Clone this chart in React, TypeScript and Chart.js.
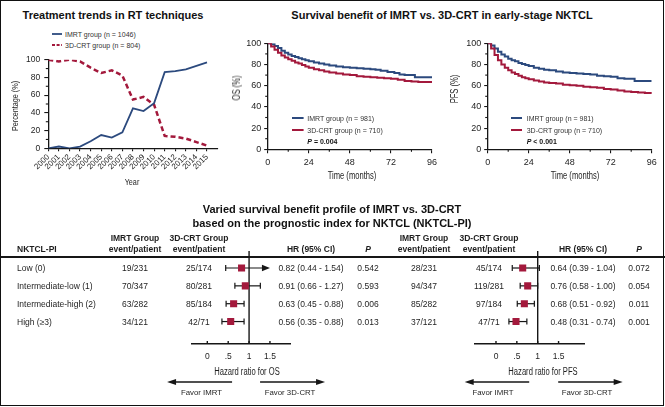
import React, { useEffect, useRef } from 'react';
import { Chart, registerables } from 'chart.js';

Chart.register(...registerables);

// ---------------- data ----------------
const YEARS = [2000, 2001, 2002, 2003, 2004, 2005, 2006, 2007, 2008, 2009, 2010, 2011, 2012, 2013, 2014, 2015];
const IMRT_SHARE = [0, 2, 0, 2, 8, 15, 12, 18, 45, 42, 51, 86, 87, 89, 93, 97];
const CRT_SHARE = [100, 98, 100, 98, 91, 85, 88, 82, 55, 58, 49, 14, 13, 11, 7, 3];
const PCT_TICKS = [0, 20, 40, 60, 80, 100];
const PCT_MINOR = [10, 30, 50, 70, 90];

const MONTH_TICKS = [0, 24, 48, 72, 96];
const MONTH_MINOR = [12, 36, 60, 84];

const OS_IMRT_MONTHS = [0, 2, 4, 6, 8, 10, 12, 14, 16, 18, 20, 22, 24, 27, 30, 33, 36, 40, 44, 48, 52, 56, 60, 63, 66, 70, 74, 77, 80, 86, 96];
const OS_IMRT = [100, 99, 97.5, 95.5, 93, 91, 89.5, 88, 87, 86, 85, 84, 83, 82, 81, 80, 79, 78, 77.5, 77, 76.5, 76, 75.5, 75, 74, 73, 72, 70.5, 70, 68, 68];
const OS_CRT_MONTHS = [0, 2, 4, 6, 8, 10, 12, 14, 16, 18, 20, 22, 24, 27, 30, 33, 36, 40, 44, 48, 52, 56, 60, 64, 68, 72, 76, 80, 84, 88, 96];
const OS_CRT = [100, 97, 94, 91, 88.5, 86.5, 85, 83.5, 82, 81, 79.5, 78, 77, 75.5, 74.5, 73.5, 72.5, 71.5, 70.5, 70, 69, 68.5, 68, 67.5, 67, 66.5, 65.5, 64.5, 64, 63.5, 63];

const PFS_IMRT_MONTHS = [0, 2, 4, 6, 8, 10, 12, 14, 16, 18, 20, 22, 24, 27, 30, 33, 36, 40, 44, 48, 52, 56, 60, 64, 68, 72, 76, 80, 86, 96];
const PFS_IMRT = [100, 98, 95, 92, 89.5, 87.5, 85.5, 84, 83, 81.5, 80.5, 79.5, 78.5, 77, 76, 75, 74.5, 73.5, 72.5, 72, 71.5, 71, 70.5, 69.5, 69, 68.5, 67, 66.5, 64.5, 64.5];
const PFS_CRT_MONTHS = [0, 2, 4, 6, 8, 10, 12, 14, 16, 18, 20, 22, 24, 27, 30, 33, 36, 40, 44, 48, 52, 56, 60, 64, 68, 72, 76, 80, 84, 88, 92, 96];
const PFS_CRT = [100, 95, 89, 84, 80, 77, 74.5, 72.5, 71, 69.5, 68, 67, 66, 65, 64, 63, 62.5, 62, 61, 60.5, 60, 59, 58.5, 58, 57, 56.5, 55.5, 54.5, 54, 53.5, 53, 52.5];

const PI_GROUPS = ['Low (0)', 'Intermediate-low (1)', 'Intermediate-high (2)', 'High (\u22653)'];
const OS_IMRT_EVENTS = ['19/231', '70/347', '63/282', '34/121'];
const OS_CRT_EVENTS = ['25/174', '80/281', '85/184', '42/71'];
const OS_HR = [0.82, 0.91, 0.63, 0.56];
const OS_LO = [0.44, 0.66, 0.45, 0.35];
const OS_HI = [1.54, 1.27, 0.88, 0.88];
const OS_P = ['0.542', '0.593', '0.006', '0.013'];
const PFS_IMRT_EVENTS = ['28/231', '94/347', '85/282', '37/121'];
const PFS_CRT_EVENTS = ['45/174', '119/281', '97/184', '47/71'];
const PFS_HR = [0.64, 0.76, 0.68, 0.48];
const PFS_LO = [0.39, 0.58, 0.51, 0.31];
const PFS_HI = [1.04, 1.0, 0.92, 0.74];
const PFS_P = ['0.072', '0.054', '0.011', '0.001'];
const HR_TICKS = [0, 0.5, 1, 1.5];
const HR_TICK_LABELS = ['0', '.5', '1', '1.5'];

// ---------------- style ----------------
const FONT = "'Liberation Sans', Arial, Helvetica, sans-serif";
const BLUE = '#2c4a7e';
const RED = '#a3193c';
const INK = '#161616';
const TXT = '#1e1e1e';

// layout (page pixels)
const ROW_Y0 = 268;
const ROW_STEP = 17.85;

const fixW = (w: number) => (s: any) => { s.width = w; };
const fixH = (h: number) => (s: any) => { s.height = h; };
const fixedTicks = (vals: number[]) => (s: any) => { s.ticks = vals.map((v) => ({ value: v })); };

const minorTicksPlugin = {
  id: 'minorTicks',
  afterDraw(chart: any, _a: any, opts: any) {
    const { ctx } = chart;
    const xs = chart.scales.x;
    const ys = chart.scales.y;
    const len = opts.len ?? 2.5;
    ctx.save();
    ctx.strokeStyle = INK;
    ctx.lineWidth = 1.1;
    (opts.x || []).forEach((v: number) => {
      const p = xs.getPixelForValue(v);
      ctx.beginPath(); ctx.moveTo(p, xs.top); ctx.lineTo(p, xs.top + len); ctx.stroke();
    });
    (opts.y || []).forEach((v: number) => {
      const p = ys.getPixelForValue(v);
      ctx.beginPath(); ctx.moveTo(ys.right, p); ctx.lineTo(ys.right - len, p); ctx.stroke();
    });
    ctx.restore();
  },
};

function arrowHead(ctx: any, x: number, y: number, dir: number, len: number, half: number) {
  ctx.beginPath();
  ctx.moveTo(x, y);
  ctx.lineTo(x - dir * len, y - half);
  ctx.lineTo(x - dir * len, y + half);
  ctx.closePath();
  ctx.fill();
}

const forestPlugin = {
  id: 'forest',
  beforeDatasetsDraw(chart: any, _a: any, opts: any) {
    const { ctx, chartArea } = chart;
    const xs = chart.scales.x;
    const ys = chart.scales.y;
    ctx.save();
    ctx.strokeStyle = INK;
    ctx.fillStyle = INK;
    ctx.lineWidth = 1.4;
    const x1 = xs.getPixelForValue(opts.ref);
    ctx.beginPath(); ctx.moveTo(x1, chartArea.top); ctx.lineTo(x1, chartArea.bottom); ctx.stroke();
    xs.ticks.forEach((t: any) => {
      const p = xs.getPixelForValue(t.value);
      ctx.beginPath(); ctx.moveTo(p, chartArea.bottom); ctx.lineTo(p, chartArea.bottom - 3); ctx.stroke();
    });
    ctx.lineWidth = 1.2;
    chart.data.datasets[0].data.forEach((d: any) => {
      const py = ys.getPixelForValue(d.y);
      const a = xs.getPixelForValue(d.lo);
      const clipped = d.hi > opts.clip;
      const b = xs.getPixelForValue(clipped ? opts.clip : d.hi);
      ctx.beginPath(); ctx.moveTo(a, py); ctx.lineTo(clipped ? b - 6 : b, py); ctx.stroke();
      ctx.beginPath(); ctx.moveTo(a, py - 3); ctx.lineTo(a, py + 3); ctx.stroke();
      if (clipped) arrowHead(ctx, b, py, 1, 8, 3.2);
      else { ctx.beginPath(); ctx.moveTo(b, py - 3); ctx.lineTo(b, py + 3); ctx.stroke(); }
    });
    // favour arrows
    ctx.lineWidth = 1.4;
    const ay = chartArea.bottom + opts.arrowDy;
    const [l0, l1] = opts.left;
    const [r0, r1] = opts.right;
    ctx.beginPath(); ctx.moveTo(x1 + l0, ay); ctx.lineTo(x1 + l1 + 6, ay); ctx.stroke();
    arrowHead(ctx, x1 + l1, ay, -1, 9, 3);
    ctx.beginPath(); ctx.moveTo(x1 + r0, ay); ctx.lineTo(x1 + r1 - 6, ay); ctx.stroke();
    arrowHead(ctx, x1 + r1, ay, 1, 9, 3);
    ctx.restore();
  },
};

const tickFont = (size: number) => ({ family: FONT, size });

function axis(o: { tickLength: number; size: number; pad: number; rot?: number; cb?: any }) {
  return {
    grid: { display: true, drawOnChartArea: false, drawTicks: true, tickLength: o.tickLength, color: INK, lineWidth: 1.1 },
    border: { display: true, color: INK, width: 1.3 },
    ticks: {
      font: tickFont(o.size), color: TXT, padding: o.pad, autoSkip: false,
      maxRotation: o.rot ?? 0, minRotation: o.rot ?? 0,
      ...(o.cb ? { callback: o.cb } : {}),
    },
  };
}

function trendConfig(w: number, h: number, box: any) {
  const xa = axis({ tickLength: 3, size: 8, pad: 1, rot: 45 });
  const ya = axis({ tickLength: 4, size: 8.5, pad: 4 });
  return {
    type: 'line',
    data: {
      datasets: [
        { label: 'IMRT group (n = 1046)', data: YEARS.map((y, i) => ({ x: y, y: IMRT_SHARE[i] })), borderColor: BLUE, borderWidth: 1.8, pointRadius: 0, tension: 0 },
        { label: '3D-CRT group (n = 804)', data: YEARS.map((y, i) => ({ x: y, y: CRT_SHARE[i] })), borderColor: RED, borderWidth: 2.5, borderDash: [5, 3], pointRadius: 0, tension: 0 },
      ],
    },
    options: {
      responsive: false, animation: false, events: [],
      layout: { padding: { left: 0, top: box.top, right: w - box.right, bottom: 0 } },
      plugins: { legend: { display: false }, tooltip: { enabled: false }, minorTicks: { y: PCT_MINOR, len: 2.5 } },
      scales: {
        x: { type: 'linear', min: 2000, max: 2016, afterFit: fixH(h - box.bottom), afterBuildTicks: fixedTicks(YEARS), ...xa, ticks: { ...xa.ticks, callback: (v: any) => String(v) } },
        y: { type: 'linear', min: 0, max: 100, afterFit: fixW(box.left), afterBuildTicks: fixedTicks(PCT_TICKS), ...ya },
      },
    },
    plugins: [minorTicksPlugin],
  };
}

function kmConfig(w: number, h: number, box: any, imrtM: number[], imrt: number[], crtM: number[], crt: number[]) {
  const xa = axis({ tickLength: 4, size: 9, pad: 4 });
  const ya = axis({ tickLength: 3.5, size: 9, pad: 3 });
  return {
    type: 'line',
    data: {
      datasets: [
        { label: '3D-CRT group (n = 710)', data: crtM.map((m, i) => ({ x: m, y: crt[i] })), borderColor: RED, borderWidth: 2, pointRadius: 0, stepped: true },
        { label: 'IMRT group (n = 981)', data: imrtM.map((m, i) => ({ x: m, y: imrt[i] })), borderColor: BLUE, borderWidth: 2, pointRadius: 0, stepped: true },
      ],
    },
    options: {
      responsive: false, animation: false, events: [],
      layout: { padding: { left: 0, top: box.top, right: w - box.right, bottom: 0 } },
      plugins: { legend: { display: false }, tooltip: { enabled: false }, minorTicks: { x: MONTH_MINOR, y: PCT_MINOR, len: 2.5 } },
      scales: {
        x: { type: 'linear', min: 0, max: 96, afterFit: fixH(h - box.bottom), afterBuildTicks: fixedTicks(MONTH_TICKS), ...xa },
        y: { type: 'linear', min: 0, max: 100, afterFit: fixW(box.left), afterBuildTicks: fixedTicks(PCT_TICKS), ...ya },
      },
    },
    plugins: [minorTicksPlugin],
  };
}

function forestConfig(canvasTop: number, h: number, box: any, w: number, hr: number[], lo: number[], hi: number[], arrows: any) {
  const top = box.top - canvasTop;
  const bottom = box.bottom - canvasTop;
  const yMin = (box.top - ROW_Y0) / ROW_STEP;
  const yMax = (box.bottom - ROW_Y0) / ROW_STEP;
  return {
    type: 'scatter',
    data: {
      datasets: [{
        data: hr.map((v, i) => ({ x: v, y: i, lo: lo[i], hi: hi[i] })),
        pointStyle: 'rect', pointRadius: 5, backgroundColor: RED, borderWidth: 0,
      }],
    },
    options: {
      responsive: false, animation: false, events: [],
      layout: { padding: { left: box.left, top, right: w - box.right, bottom: 0 } },
      plugins: { legend: { display: false }, tooltip: { enabled: false }, forest: { ref: 1, clip: 1.5, arrowDy: 38, ...arrows } },
      scales: {
        x: {
          type: 'linear', min: box.min, max: box.max, afterFit: fixH(h - bottom), afterBuildTicks: fixedTicks(HR_TICKS),
          grid: { display: false, drawTicks: false },
          border: { display: true, color: INK, width: 1.4 },
          ticks: { font: tickFont(8.5), color: TXT, padding: 8, maxRotation: 0, autoSkip: false, callback: (_v: any, i: number) => HR_TICK_LABELS[i] },
        },
        y: { type: 'linear', min: yMin, max: yMax, reverse: true, display: false },
      },
    },
    plugins: [forestPlugin],
  };
}

function ChartCanvas({ left, top, width, height, make }: any) {
  const ref = useRef<HTMLCanvasElement>(null);
  useEffect(() => {
    const c = new Chart(ref.current as HTMLCanvasElement, make() as any);
    return () => c.destroy();
  }, []);
  return <canvas ref={ref} width={width} height={height} style={{ position: 'absolute', left, top, width, height }} />;
}

function T({ x, y, text, align = 'left', size = 8.5, bold = false, italic = false, sx = 1, rot = 0, color = TXT, children }: any) {
  const tx = align === 'left' ? '0' : align === 'center' ? '-50%' : '-100%';
  const ox = align === 'left' ? '0%' : align === 'center' ? '50%' : '100%';
  return (
    <div style={{
      position: 'absolute', left: x, top: y,
      transform: `translate(${tx},-50%) rotate(${rot}deg) scaleX(${sx})`, transformOrigin: `${ox} 50%`,
      fontFamily: FONT, fontSize: size, fontWeight: bold ? 700 : 400, fontStyle: italic ? 'italic' : 'normal',
      lineHeight: 1, whiteSpace: 'nowrap', color,
    }}>{children ?? text}</div>
  );
}

function Swatch({ x, y, w, color, width = 2, dash }: any) {
  return (
    <svg style={{ position: 'absolute', left: x, top: y - 3, overflow: 'visible' }} width={w} height={6}>
      <line x1={0} y1={3} x2={w} y2={3} stroke={color} strokeWidth={width} strokeDasharray={dash} />
    </svg>
  );
}

const COND = 0.76;

export default function App() {
  useEffect(() => { document.body.style.margin = '0'; }, []);
  const fmt = (v: number) => v.toFixed(2);
  const osCols = { imrt: 135, crt: 199, hr: 311, p: 368 };
  const pfsCols = { imrt: 424, crt: 489, hr: 583, p: 639 };
  return (
    <div style={{ position: 'fixed', left: 0, top: 0, width: 665, height: 407, background: '#fff', overflow: 'hidden' }}>
      {/* Panel A */}
      <T x={113} y={15} text="Treatment trends in RT techniques" align="center" size={11} bold color="#111" />
      <Swatch x={52} y={34} w={10} color={BLUE} width={1.8} />
      <T x={65} y={34} text="IMRT group (n = 1046)" size={7} color="#333" />
      <Swatch x={52} y={45} w={10} color={RED} width={2.2} dash="3,1.6" />
      <T x={65} y={45} text="3D-CRT group (n = 804)" size={7} color="#333" />
      <ChartCanvas left={0} top={40} width={222} height={150}
        make={() => trendConfig(222, 150, { left: 48.3, top: 19.7, right: 217.6, bottom: 108.3 })} />
      <T x={15} y={106} text="Percentage (%)" align="center" size={9.5} sx={COND} rot={-90} />
      <T x={131.5} y={182} text="Year" align="center" size={9.5} sx={COND} />

      {/* Panel B */}
      <T x={442} y={15} text="Survival benefit of IMRT vs. 3D-CRT in early-stage NKTCL" align="center" size={11} bold color="#111" />
      <ChartCanvas left={222} top={30} width={220} height={160}
        make={() => kmConfig(220, 160, { left: 45.7, top: 13.3, right: 210, bottom: 119.3 }, OS_IMRT_MONTHS, OS_IMRT, OS_CRT_MONTHS, OS_CRT)} />
      <T x={236.5} y={88} text="OS (%)" align="center" size={10} sx={COND} rot={-90} />
      <T x={352} y={176} text="Time (months)" align="center" size={10} sx={COND} />
      <Swatch x={291.7} y={118.3} w={11.6} color={BLUE} width={2} />
      <T x={307.3} y={118.3} text="IMRT group (n = 981)" size={7} color="#333" />
      <Swatch x={291.7} y={130} w={11.6} color={RED} width={2} />
      <T x={307.3} y={130} text="3D-CRT group (n = 710)" size={7} color="#333" />
      <T x={307.3} y={141} size={7} bold color="#111"><i>P</i> = 0.004</T>

      <ChartCanvas left={442} top={30} width={222} height={160}
        make={() => kmConfig(222, 160, { left: 45.7, top: 13.3, right: 209.7, bottom: 119.3 }, PFS_IMRT_MONTHS, PFS_IMRT, PFS_CRT_MONTHS, PFS_CRT)} />
      <T x={455} y={89} text="PFS (%)" align="center" size={10} sx={COND} rot={-90} />
      <T x={575} y={176} text="Time (months)" align="center" size={10} sx={COND} />
      <Swatch x={510.7} y={118.3} w={11} color={BLUE} width={2} />
      <T x={526.7} y={118.3} text="IMRT group (n = 981)" size={7} color="#333" />
      <Swatch x={510.7} y={130} w={11} color={RED} width={2} />
      <T x={526.7} y={130} text="3D-CRT group (n = 710)" size={7} color="#333" />
      <T x={526.7} y={141} size={7} bold color="#111"><i>P</i> &lt; 0.001</T>

      {/* Panel C */}
      <T x={332} y={209} text="Varied survival benefit profile of IMRT vs. 3D-CRT" align="center" size={11} bold color="#111" />
      <T x={332} y={223} text="based on the prognostic index for NKTCL (NKTCL-PI)" align="center" size={11} bold color="#111" />

      <T x={17} y={248.5} text="NKTCL-PI" size={8.5} bold />
      {[osCols, pfsCols].map((c, k) => (
        <React.Fragment key={k}>
          <T x={c.imrt} y={238} text="IMRT Group" align="center" size={8.5} bold />
          <T x={c.imrt} y={248.5} text="event/patient" align="center" size={8.5} bold />
          <T x={c.crt} y={238} text="3D-CRT Group" align="center" size={8.5} bold />
          <T x={c.crt} y={248.5} text="event/patient" align="center" size={8.5} bold />
          <T x={c.hr} y={248.5} text="HR (95% CI)" align="center" size={8.5} bold />
          <T x={c.p} y={248.5} text="P" align="center" size={8.5} bold italic />
        </React.Fragment>
      ))}
      <div style={{ position: 'absolute', left: 0, top: 256, width: 665, height: 1.5, background: INK }} />

      {PI_GROUPS.map((g, i) => {
        const y = ROW_Y0 + i * ROW_STEP;
        return (
          <React.Fragment key={g}>
            <T x={17} y={y} text={g} />
            <T x={osCols.imrt} y={y} text={OS_IMRT_EVENTS[i]} align="center" />
            <T x={osCols.crt} y={y} text={OS_CRT_EVENTS[i]} align="center" />
            <T x={osCols.hr} y={y} text={`${fmt(OS_HR[i])} (${fmt(OS_LO[i])} - ${fmt(OS_HI[i])})`} align="center" />
            <T x={osCols.p} y={y} text={OS_P[i]} align="center" />
            <T x={pfsCols.imrt} y={y} text={PFS_IMRT_EVENTS[i]} align="center" />
            <T x={pfsCols.crt} y={y} text={PFS_CRT_EVENTS[i]} align="center" />
            <T x={pfsCols.hr} y={y} text={`${fmt(PFS_HR[i])} (${fmt(PFS_LO[i])} - ${fmt(PFS_HI[i])})`} align="center" />
            <T x={pfsCols.p} y={y} text={PFS_P[i]} align="center" />
          </React.Fragment>
        );
      })}

      <ChartCanvas left={150} top={240} width={200} height={150}
        make={() => forestConfig(240, 150, { left: 41.7, right: 140, top: 251, bottom: 344, min: -0.374, max: 1.98 }, 200, OS_HR, OS_LO, OS_HI, { left: [-17, -82], right: [11, 76] })} />
      <ChartCanvas left={440} top={240} width={224} height={150}
        make={() => forestConfig(240, 150, { left: 34.3, right: 144, top: 251, bottom: 344, min: -0.52, max: 2.11 }, 224, PFS_HR, PFS_LO, PFS_HI, { left: [-8.5, -73], right: [20.5, 85] })} />

      <T x={247} y={372} text="Hazard ratio for OS" align="center" size={10} sx={COND} />
      <T x={543} y={372} text="Hazard ratio for PFS" align="center" size={10} sx={COND} />
      <T x={201.5} y={393} text="Favor IMRT" align="center" size={7.8} />
      <T x={290} y={393} text="Favor 3D-CRT" align="center" size={7.8} />
      <T x={493} y={393} text="Favor IMRT" align="center" size={7.8} />
      <T x={587} y={393} text="Favor 3D-CRT" align="center" size={7.8} />

      <div style={{ position: 'absolute', left: 0, top: 0, width: 664, height: 406, border: '1.5px solid #111', boxSizing: 'border-box', pointerEvents: 'none' }} />
    </div>
  );
}
